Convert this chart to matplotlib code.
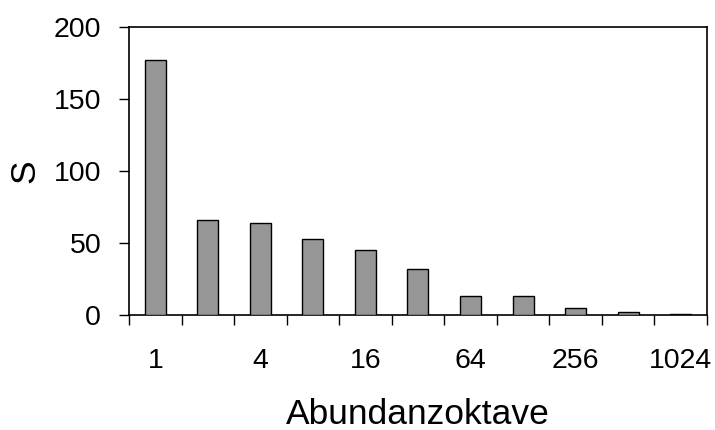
import numpy as np
import matplotlib.pyplot as plt

plt.rcParams["font.family"] = ["Liberation Sans", "DejaVu Sans"]

# Species per abundance octave
octaves = [1, 2, 4, 8, 16, 32, 64, 128, 256, 512, 1024]
species = [177, 66, 64, 53, 45, 32, 13, 13, 5, 2, 1]
labelled = [1, 4, 16, 64, 256, 1024]

fig = plt.figure(figsize=(7.15, 4.3), dpi=100)
ax = fig.add_axes([0.1804, 0.2674, 0.8084, 0.6698])

x = np.arange(len(octaves))
ax.bar(x, species, width=0.4, color="#969696", edgecolor="black", linewidth=1.0, zorder=3)

ax.set_xlim(-0.5, len(octaves) - 0.5)
ax.set_ylim(0, 200)
ax.set_yticks([0, 50, 100, 150, 200])

# labels on every other octave, tick marks on the category borders
ax.set_xticks([i for i, o in enumerate(octaves) if o in labelled])
ax.set_xticklabels([str(o) for o in octaves if o in labelled])
ax.set_xticks(np.arange(-0.5, len(octaves)), minor=True)
ax.tick_params(axis="x", which="major", length=0, pad=24, labelsize=20.5)
ax.tick_params(axis="x", which="minor", length=7, width=1.0, direction="out")
ax.tick_params(axis="y", length=7, width=1.0, pad=13, labelsize=20.5)

for s in ax.spines.values():
    s.set_linewidth(1.2)

ax.set_xlabel("Abundanzoktave", fontsize=25.5, labelpad=17)
ax.set_ylabel("S", fontsize=25.5, labelpad=9)

fig.savefig("out.png", dpi=100)
